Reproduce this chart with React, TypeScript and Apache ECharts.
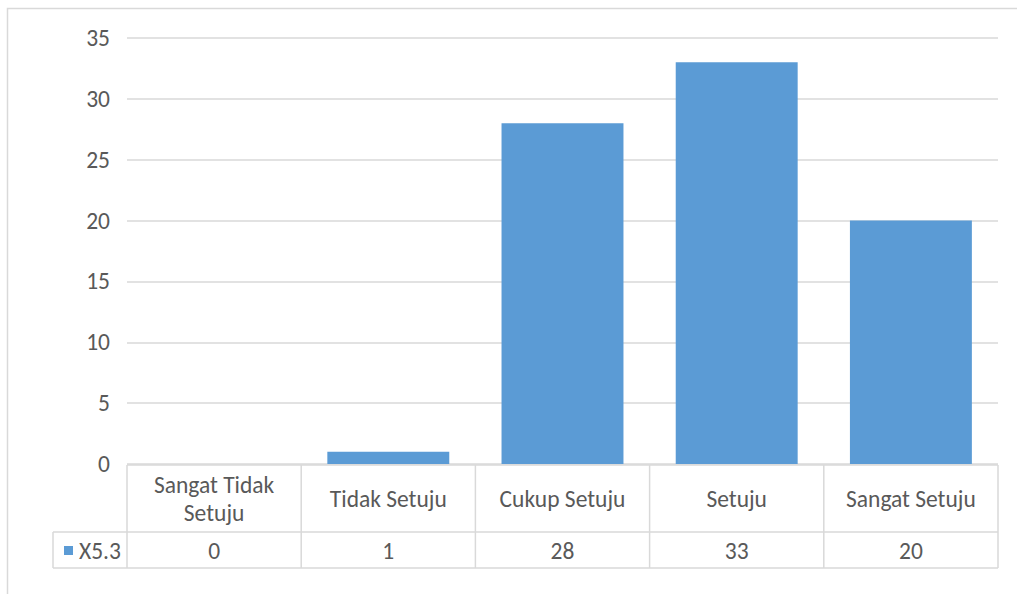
import React, { useEffect, useRef } from "react";
import * as echarts from "echarts";

const categories = ["Sangat Tidak\nSetuju", "Tidak Setuju", "Cukup Setuju", "Setuju", "Sangat Setuju"];
const seriesName = "X5.3";
const values = [0, 1, 28, 33, 20];
const yTicks = [0, 5, 10, 15, 20, 25, 30, 35];

const W = 1017;
const H = 594;
const PLOT_LEFT = 127;
const PLOT_RIGHT = 998;
const PLOT_TOP = 38;
const PLOT_BOTTOM = 464;
const ROW1_BOTTOM = 532;
const ROW2_BOTTOM = 568;
const TABLE_LEFT = 53;

const FONT = "Carlito, Lato, sans-serif";
const FS = 23.5;
const TEXT = "#595959";
const LINE = "#D9D9D9";
const BAR = "#5B9BD5";

export default function App() {
  const ref = useRef<HTMLDivElement>(null);

  useEffect(() => {
    if (!ref.current) return;
    const chart = echarts.init(ref.current, null, { renderer: "svg" });
    const n = categories.length;
    const colW = (PLOT_RIGHT - PLOT_LEFT) / n;
    const graphics: any[] = [];

    // chart outer frame
    graphics.push({
      type: "rect",
      shape: { x: 7.5, y: 8.5, width: W + 10, height: H + 10 },
      style: { fill: "none", stroke: LINE, lineWidth: 1.5 },
      silent: true,
    });

    // data table grid
    const hl = (x1: number, x2: number, y: number) =>
      graphics.push({ type: "line", shape: { x1, y1: y, x2, y2: y }, style: { stroke: LINE, lineWidth: 1.5 } });
    const vl = (x: number, y1: number, y2: number) =>
      graphics.push({ type: "line", shape: { x1: x, y1, x2: x, y2 }, style: { stroke: LINE, lineWidth: 1.5 } });
    hl(PLOT_LEFT, PLOT_RIGHT, PLOT_BOTTOM + 1);
    hl(TABLE_LEFT, PLOT_RIGHT, ROW1_BOTTOM);
    hl(TABLE_LEFT, PLOT_RIGHT, ROW2_BOTTOM);
    vl(TABLE_LEFT, ROW1_BOTTOM, ROW2_BOTTOM);
    for (let i = 0; i <= n; i++) {
      vl(PLOT_LEFT + i * colW, PLOT_BOTTOM + 1, ROW2_BOTTOM);
    }

    categories.forEach((c, i) => {
      const cx = PLOT_LEFT + (i + 0.5) * colW;
      graphics.push({
        type: "text",
        x: cx,
        y: (PLOT_BOTTOM + ROW1_BOTTOM) / 2 + 1,
        style: {
          text: c,
          fill: TEXT,
          font: `${FS}px ${FONT}`,
          align: "center",
          verticalAlign: "middle",
          lineHeight: 28,
        },
      });
      graphics.push({
        type: "text",
        x: cx,
        y: (ROW1_BOTTOM + ROW2_BOTTOM) / 2 + 1,
        style: {
          text: String(values[i]),
          fill: TEXT,
          font: `${FS}px ${FONT}`,
          align: "center",
          verticalAlign: "middle",
        },
      });
    });

    // legend key inside the table
    graphics.push({
      type: "rect",
      shape: { x: 64, y: 546, width: 9, height: 9 },
      style: { fill: BAR },
    });
    graphics.push({
      type: "text",
      x: 79,
      y: (ROW1_BOTTOM + ROW2_BOTTOM) / 2 + 1,
      style: { text: seriesName, fill: TEXT, font: `${FS}px ${FONT}`, align: "left", verticalAlign: "middle" },
    });

    chart.setOption({
      animation: false,
      backgroundColor: "#fff",
      grid: {
        left: PLOT_LEFT,
        right: W - PLOT_RIGHT,
        top: PLOT_TOP,
        bottom: H - PLOT_BOTTOM,
        containLabel: false,
      },
      xAxis: {
        type: "category",
        data: categories,
        axisLine: { show: false },
        axisTick: { show: false },
        axisLabel: { show: false },
      },
      yAxis: {
        type: "value",
        min: yTicks[0],
        max: yTicks[yTicks.length - 1],
        interval: 5,
        axisLine: { show: false },
        axisTick: { show: false },
        axisLabel: { color: TEXT, fontFamily: FONT, fontSize: FS, margin: 17 },
        splitLine: { lineStyle: { color: LINE, width: 1.5 } },
      },
      series: [
        {
          name: seriesName,
          type: "bar",
          data: values,
          barCategoryGap: "30%",
          itemStyle: { color: BAR },
        },
      ],
      graphic: graphics,
    });

    return () => chart.dispose();
  }, []);

  return (
    <div
      ref={ref}
      style={{ position: "absolute", left: 0, top: 0, width: W, height: H }}
    />
  );
}
